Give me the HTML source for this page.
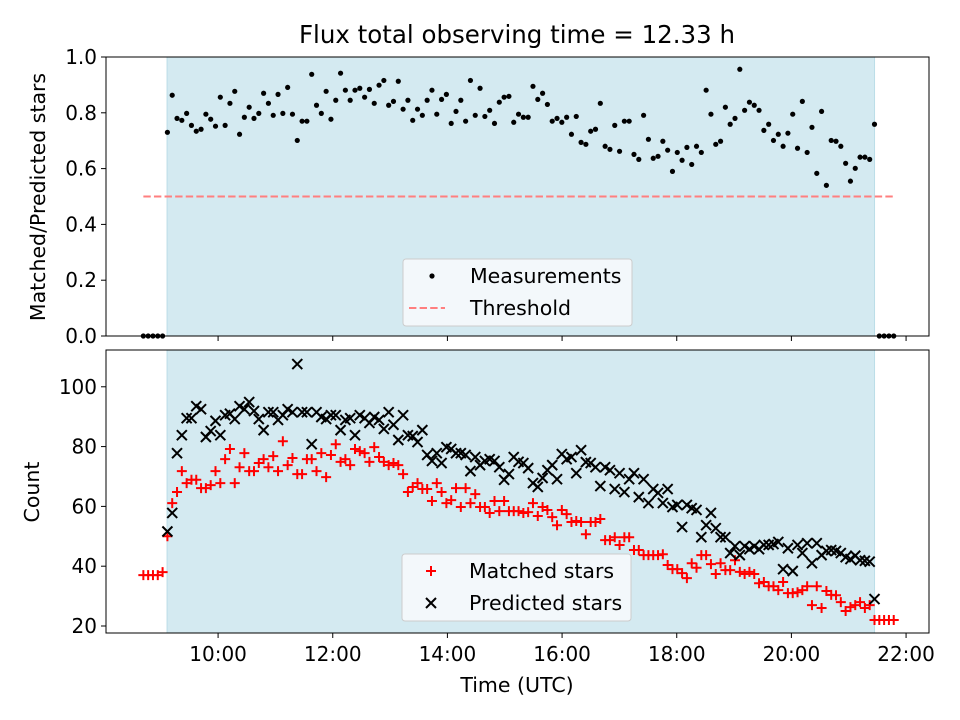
<!DOCTYPE html>
<html><head><meta charset="utf-8">
<style>
html,body{margin:0;padding:0;background:#fff;}
svg{display:block;font-family:"DejaVu Sans","Liberation Sans",sans-serif;}
</style></head>
<body>
<svg id="chart" width="960" height="720" viewBox="0 0 960 720" xmlns="http://www.w3.org/2000/svg">
<rect width="960" height="720" fill="#fff"/>
<text x="517" y="43" font-size="24.5" text-anchor="middle">Flux total observing time = 12.33 h</text>
<g id="topPanel"></g>
<g id="botPanel"></g>
<text transform="translate(45,197) rotate(-90)" font-size="20.5" text-anchor="middle">Matched/Predicted stars</text>
<text transform="translate(39,492) rotate(-90)" font-size="20.5" text-anchor="middle">Count</text>
<text x="517" y="692" font-size="20.5" text-anchor="middle">Time (UTC)</text>
</svg>
<script>
// ---- data ----
const startHour = 9.116;      // first in-window measurement (h UTC)
const stepHours = 0.0839;     // cadence (~5 min)
const windowStart = 9.11;
const windowEnd = 21.45;
const threshold = 0.5;
const preCount = 5;
const postCount = 4;
const ratioValues = [0.730,0.863,0.780,0.773,0.798,0.755,0.734,0.741,0.795,0.777,0.752,0.856,0.755,0.834,0.877,0.723,0.784,0.820,0.780,0.798,0.870,0.834,0.791,0.866,0.798,0.891,0.795,0.701,0.770,0.770,0.938,0.827,0.798,0.877,0.777,0.845,0.942,0.881,0.845,0.881,0.888,0.856,0.884,0.834,0.899,0.916,0.827,0.841,0.913,0.813,0.845,0.773,0.813,0.791,0.845,0.881,0.795,0.848,0.866,0.762,0.805,0.845,0.770,0.916,0.791,0.888,0.787,0.809,0.762,0.838,0.856,0.859,0.766,0.795,0.784,
0.784,0.895,0.848,0.870,0.830,0.770,0.780,0.766,0.784,0.723,0.787,0.694,0.687,0.734,0.741,0.834,0.680,0.669,0.755,0.662,0.770,0.770,0.651,0.633,0.791,0.705,0.637,0.644,0.698,0.666,0.590,0.658,0.630,0.676,0.615,0.680,0.658,0.881,0.795,0.687,0.698,0.820,0.759,0.780,0.956,0.809,0.838,0.827,0.809,0.737,0.759,0.701,0.723,0.680,0.727,0.795,0.673,0.841,0.658,0.748,0.583,0.805,0.540,0.701,0.698,0.680,0.619,0.555,0.601,0.641,0.641,0.633,0.759];
const matchedPre = [37,37,37,37,38];
const matchedPost = [22,22,22,22];
const matchedValues = [50,61.1,64.8,71.8,67.8,68.9,68.9,66.1,66.1,67.1,71.8,67.8,75.8,79.2,67.8,73.1,77.8,71.8,71.8,74.5,75.8,73.1,76.8,71.8,81.8,73.8,76.2,70.8,70.8,75.8,75.8,71.8,77.8,69.8,77.2,80.8,74.9,75.8,73.8,79.2,78.5,77.8,74.9,79.8,76.5,74.9,73.8,74.5,73.8,70.8,64.8,66.5,67.8,65.8,65.8,61.8,67.8,64.8,61.1,62.1,66.1,59.8,66.1,61.1,64.1,59.8,59.8,57.8,61.8,58.4,61.8,58.4,58.4,58.4,57.8,
58.1,61.1,56.8,59.8,58.8,56.4,53.7,58.8,57.4,54.8,55.1,54.8,50.7,54.8,54.8,55.8,48.7,48.7,49.7,47.1,49.7,49.7,45.4,45.4,43.7,43.7,43.7,43.7,44.0,40.4,39.0,39.0,37.7,36.0,41.0,39.5,43.7,43.7,40.7,37.4,41.0,38.7,38.7,42.0,38.1,37.4,38.1,37.4,34.3,34.7,33.3,33.3,32.0,34.7,31.0,31.0,31.3,32.0,33.3,27.0,33.3,26.0,31.7,30.4,30.3,28.0,25.0,26.3,27.0,28.0,26.0,27.0,22.0];
const predictedValues = [51.6,57.8,77.8,83.8,89.5,89.5,93.5,92.5,83.2,85.2,88.6,83.8,90.5,91.0,89.2,93.5,92.5,94.9,91.9,89.2,85.5,91.5,91.5,88.9,90.5,92.5,91.5,107.6,91.5,91.5,80.8,91.5,89.9,89.2,90.5,90.5,85.5,88.9,89.5,83.8,90.5,89.5,87.9,89.9,88.9,85.9,91.5,87.3,82.2,90.5,83.8,83.5,81.5,85.5,77.2,75.2,77.8,74.5,79.8,79.2,77.8,77.8,77.2,71.8,76.5,73.8,75.2,75.8,75.2,73.1,68.9,70.8,76.5,74.9,74.5,
72.8,67.8,66.5,69.5,72.1,73.8,69.1,77.5,75.8,76.5,71.1,78.8,74.8,74.5,73.1,66.8,73.1,72.1,65.8,71.1,64.8,69.1,71.1,63.1,69.1,61.1,65.8,64.5,61.1,65.8,59.8,60.5,53.1,60.5,59.4,58.8,49.7,53.7,57.8,52.7,49.7,49.7,44.4,46.7,43.7,46.7,45.7,46.7,45.7,47.1,47.1,47.4,48.1,39.0,46.0,38.4,47.1,44.4,47.7,41.0,47.7,43.7,45.1,45.4,45.1,44.4,43.0,42.4,43.5,42.0,41.8,41.5,29.0];
const topTicks = [0,0.2,0.4,0.6,0.8,1.0];
const botTicks = [20,40,60,80,100];
const xTickHours = [10,12,14,16,18,20,22];
const xTickLabels = ["10:00","12:00","14:00","16:00","18:00","20:00","22:00"];

// ---- axes ----
const NS = "http://www.w3.org/2000/svg";
const X0 = 106, X1 = 929, H0 = 8.045, H1 = 22.40;
const xs = h => X0 + (h - H0) / (H1 - H0) * (X1 - X0);
const TY0 = 57, TY1 = 336;
const yTop = v => TY1 - v * (TY1 - TY0);
const BY0 = 350, BY1 = 633, BV0 = 17.66, BV1 = 112.3;
const yBot = v => BY1 - (v - BV0) / (BV1 - BV0) * (BY1 - BY0);
const tAt = i => startHour + i * stepHours;
const TICK_FS = 20;
const LEG_FS = 20.5;

function mk(tag, attrs, parent) {
  const e = document.createElementNS(NS, tag);
  for (const k in attrs) e.setAttribute(k, attrs[k]);
  parent.appendChild(e);
  return e;
}
const topG = document.getElementById('topPanel');
const botG = document.getElementById('botPanel');

function panel(g, y0, y1, name) {
  const sh = mk('rect', {x: xs(windowStart), y: y0, width: xs(windowEnd) - xs(windowStart), height: y1 - y0, fill: '#d4eaf1', stroke: '#bcdde8', 'stroke-width': 1}, g);
  
  
}
panel(topG, TY0, TY1, 'top');
panel(botG, BY0, BY1, 'bottom');

const nAll = ratioValues.length;
const thr = mk('line', {x1: xs(tAt(-preCount)), x2: xs(tAt(nAll - 1 + postCount)), y1: yTop(threshold), y2: yTop(threshold), stroke: '#ff7f7f', 'stroke-width': 2, 'stroke-dasharray': '7.4,3.2'}, topG);



for (let k = preCount; k >= 1; k--) {
  const c = mk('circle', {cx: xs(tAt(-k)), cy: yTop(0), r: 2.6, fill: '#000'}, topG);
  
  
}
ratioValues.forEach((v, i) => {
  const c = mk('circle', {cx: xs(tAt(i)), cy: yTop(v), r: 2.6, fill: '#000'}, topG);
  
  
});
for (let k = 1; k <= postCount; k++) {
  const c = mk('circle', {cx: xs(tAt(nAll - 1 + k)), cy: yTop(0), r: 2.6, fill: '#000'}, topG);
  
  
}

function plus(g, h, v) {
  const x = xs(h), y = yBot(v), s = 5;
  const p = mk('path', {d: `M${x-s},${y}H${x+s}M${x},${y-s}V${y+s}`, stroke: '#ff0000', 'stroke-width': 2, fill: 'none'}, g);
  
  
}
function cross(g, h, v) {
  const x = xs(h), y = yBot(v), s = 5;
  const p = mk('path', {d: `M${x-s},${y-s}L${x+s},${y+s}M${x-s},${y+s}L${x+s},${y-s}`, stroke: '#000', 'stroke-width': 2, fill: 'none'}, g);
  
  
}
matchedPre.forEach((v, k) => plus(botG, tAt(k - matchedPre.length), v));
matchedValues.forEach((v, i) => plus(botG, tAt(i), v));
matchedPost.forEach((v, k) => plus(botG, tAt(matchedValues.length + k), v));
predictedValues.forEach((v, i) => cross(botG, tAt(i), v));

function frame(g, y0, y1, name) {
  const r = mk('rect', {x: X0, y: y0, width: X1 - X0, height: y1 - y0, fill: 'none', stroke: '#000', 'stroke-width': 1}, g);
  
  
  xTickHours.forEach(h => {
    const t = mk('line', {x1: xs(h), x2: xs(h), y1: y1, y2: y1 + 5, stroke: '#000'}, g);
    
    
  });
}
frame(topG, TY0, TY1, 'top');
frame(botG, BY0, BY1, 'bottom');
topTicks.forEach(v => {
  const t = mk('line', {x1: X0 - 5, x2: X0, y1: yTop(v), y2: yTop(v), stroke: '#000'}, topG);
  
  
  const l = mk('text', {x: X0 - 9, y: yTop(v) + 7, 'font-size': TICK_FS, 'text-anchor': 'end'}, topG);
  l.textContent = v.toFixed(1);
  
  
});
botTicks.forEach(v => {
  const t = mk('line', {x1: X0 - 5, x2: X0, y1: yBot(v), y2: yBot(v), stroke: '#000'}, botG);
  
  
  const l = mk('text', {x: X0 - 9, y: yBot(v) + 7, 'font-size': TICK_FS, 'text-anchor': 'end'}, botG);
  l.textContent = String(v);
  
  
});
xTickHours.forEach((h, i) => {
  const l = mk('text', {x: xs(h), y: BY1 + 28, 'font-size': TICK_FS, 'text-anchor': 'middle'}, botG);
  l.textContent = xTickLabels[i];
  
  
});

function legend(g, x, y, name, entries) {
  const b = mk('rect', {x: x, y: y, width: 229, height: 67, rx: 3, fill: '#f6fafc', 'fill-opacity': 0.9, stroke: '#cccccc'}, g);
  
  
  entries.forEach((e, i) => {
    const cy = y + 17 + i * 32;
    e.draw(x + 29, cy);
    const t = mk('text', {x: x + 67, y: cy + 7, 'font-size': LEG_FS}, g);
    t.textContent = e.label;
    
    
  });
}
legend(topG, 403, 259, 'top-legend', [
  {label: 'Measurements', draw: (x, y) => { const c = mk('circle', {cx: x, cy: y, r: 2.6, fill: '#000'}, topG);   }},
  {label: 'Threshold', draw: (x, y) => { const l = mk('line', {x1: x - 23, x2: x + 13, y1: y, y2: y, stroke: '#ff7f7f', 'stroke-width': 2, 'stroke-dasharray': '7.4,3.2'}, topG);   }}
]);
legend(botG, 402, 554, 'bottom-legend', [
  {label: 'Matched stars', draw: (x, y) => { const p = mk('path', {d: `M${x-5},${y}H${x+5}M${x},${y-5}V${y+5}`, stroke: '#f00', 'stroke-width': 2}, botG);   }},
  {label: 'Predicted stars', draw: (x, y) => { const p = mk('path', {d: `M${x-5},${y-5}L${x+5},${y+5}M${x-5},${y+5}L${x+5},${y-5}`, stroke: '#000', 'stroke-width': 2}, botG);   }}
]);
</script>
</body></html>
